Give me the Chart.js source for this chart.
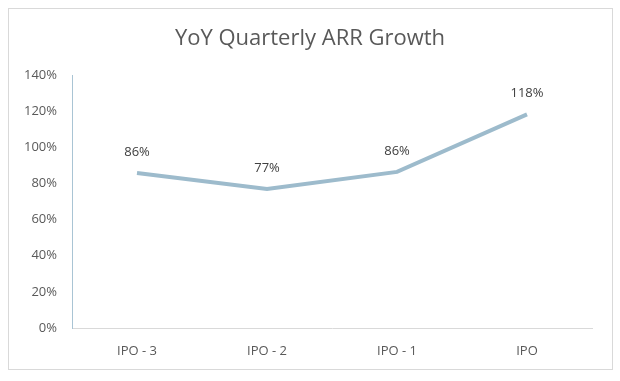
<!DOCTYPE html>
<html>
<head>
<meta charset="utf-8">
<script src="https://cdn.jsdelivr.net/npm/chart.js@4"></script>
<style>
  body { margin: 0; background: #fff; }
  #wrap { position: relative; width: 620px; height: 381px; }
  #frame { position: absolute; left: 8px; top: 8px; width: 603px; height: 360px; border: 1px solid #d9d9d9; pointer-events: none; }
</style>
</head>
<body>
<div id="wrap">
  <canvas id="myChart" width="620" height="381"></canvas>
  <div id="frame"></div>
</div>
<script>
const chartTitle = "YoY Quarterly ARR Growth";
const categories = ["IPO - 3", "IPO - 2", "IPO - 1", "IPO"];
const growth = [85.8, 76.9, 86.4, 118.2];
const tickStep = 20;
const tickMax = 140;

// title centred on the whole canvas, plus value labels above the points
const extras = {
  id: "extras",
  afterDatasetsDraw(chart) {
    const ctx = chart.ctx;
    ctx.save();
    ctx.font = "22px 'Open Sans', sans-serif";
    ctx.fillStyle = "#595959";
    ctx.textAlign = "center";
    ctx.textBaseline = "alphabetic";
    ctx.fillText(chartTitle, chart.width / 2, 45);

    ctx.font = "13px 'Open Sans', sans-serif";
    ctx.fillStyle = "#404040";
    ctx.textBaseline = "middle";
    chart.getDatasetMeta(0).data.forEach((pt, i) => {
      ctx.fillText(Math.round(growth[i]) + "%", pt.x, pt.y - 21);
    });
    ctx.restore();
  }
};

const ctx = document.getElementById("myChart").getContext("2d");
const myChart = new Chart(ctx, {
  type: "line",
  data: {
    labels: categories,
    datasets: [
      {
        label: chartTitle,
        data: growth,
        borderColor: "#9dbbcc",
        borderWidth: 4,
        pointRadius: 0,
        tension: 0,
        fill: false,
      },
    ],
  },
  options: {
    responsive: false,
    animation: false,
    layout: { padding: { left: 0, right: 28, top: 75, bottom: 0 } },
    plugins: {
      legend: { display: false },
      tooltip: { enabled: false },
      title: { display: false },
    },
    scales: {
      x: {
        offset: true,
        grid: { display: false },
        border: { color: "#d9d9d9", width: 1 },
        ticks: {
          color: "#595959",
          font: { family: "'Open Sans', sans-serif", size: 13 },
          padding: 7,
          maxRotation: 0,
        },
        afterFit(scale) { scale.height = 53; },
      },
      y: {
        min: 0,
        max: tickMax,
        grid: { display: false },
        border: { color: "#a9c4d4", width: 1 },
        ticks: {
          stepSize: tickStep,
          color: "#595959",
          font: { family: "'Open Sans', sans-serif", size: 13 },
          padding: 7,
          callback: (v) => v + "%",
        },
        afterFit(scale) { scale.width = 72; },
      },
    },
  },
  plugins: [extras],
});
</script>
</body>
</html>
